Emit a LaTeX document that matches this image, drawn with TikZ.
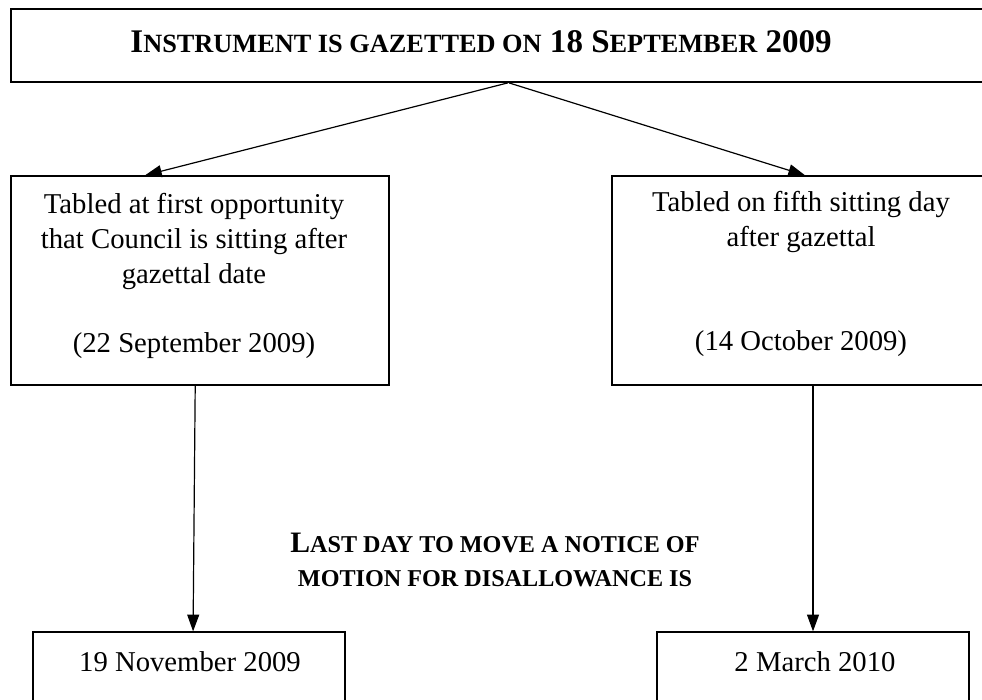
\documentclass[tikz,border=0pt]{standalone}
\usepackage{fontspec}
\setmainfont{Liberation Serif}
\usetikzlibrary{arrows.meta}
\newcommand\smcap[1]{{\fontsize{10.1pt}{11pt}\selectfont #1}}
\newcommand\bigsmcap[1]{{\fontsize{11pt}{12pt}\selectfont #1}}

\begin{document}
\begin{tikzpicture}[x=0.418pt,y=-0.418pt,
  box/.style={draw,line width=0.55pt,inner sep=0pt},
  txt/.style={align=center,inner sep=0pt,font=\fontsize{12pt}{14.5pt}\selectfont},
  arr/.style={-{Triangle[length=7pt,width=5pt]},line width=0.5pt}]
\useasboundingbox (0,0) rectangle (982,699);
% top box
\node[box,line width=0.75pt,minimum width=984*0.418pt,minimum height=73*0.418pt] (top) at (503,45.5) {};
\node[txt,font=\bfseries\fontsize{13.8pt}{15pt}\selectfont] (toptxt) at (481,42)
  {I\bigsmcap{NSTRUMENT IS GAZETTED ON} 18 S\bigsmcap{EPTEMBER} 2009};
% middle boxes
\node[box,minimum width=378*0.418pt,minimum height=209*0.418pt] (lbox) at (200,280.5) {};
\node[box,minimum width=380*0.418pt,minimum height=209*0.418pt] (rbox) at (802,280.5) {};
\node[txt] (ltxt) at (194,276) {Tabled at first opportunity\\that Council is sitting after\\gazettal date\\[14.5pt](22 September 2009)};
\node[txt] (rtxt) at (801,274) {Tabled on fifth sitting day\\after gazettal\\[29pt](14 October 2009)};
% middle label
\node[txt,font=\bfseries\fontsize{12.4pt}{14.3pt}\selectfont] (last) at (495,560)
  {L\smcap{AST DAY TO MOVE A NOTICE OF}\\\smcap{MOTION FOR DISALLOWANCE IS}};
% bottom boxes
\node[box,minimum width=312*0.418pt,minimum height=100*0.418pt] (lbot) at (189,682) {};
\node[box,minimum width=312*0.418pt,minimum height=100*0.418pt] (rbot) at (813,682) {};
\node[txt] (lbottxt) at (190,662) {19 November 2009};
\node[txt] (rbottxt) at (815,662) {2 March 2010};
% arrows
\draw[arr] ([xshift=2pt]top.south) -- ([xshift=-23pt]lbox.north);
\draw[arr] ([xshift=2.5pt]top.south) -- ([xshift=1.3pt]rbox.north);
\draw[arr] ([xshift=-2pt]lbox.south) -- ([xshift=1.7pt]lbot.north);
\draw[arr] (rbox.south -| rbot.north) -- (rbot.north);
\end{tikzpicture}
\end{document}
